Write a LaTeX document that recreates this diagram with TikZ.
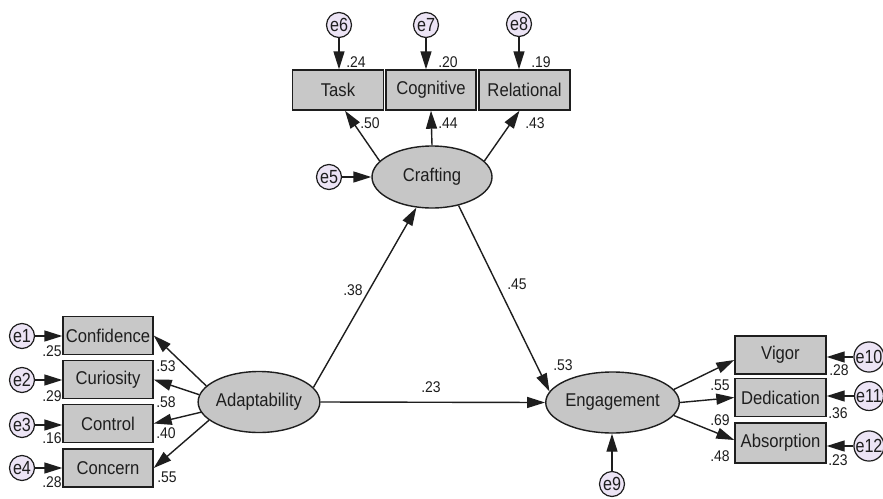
\documentclass[tikz,border=0pt]{standalone}
\usepackage{fontspec}
\setmainfont{Liberation Sans}[FakeStretch=0.9]
\usetikzlibrary{arrows.meta,shapes.geometric}
\definecolor{boxgray}{RGB}{200,200,200}
\definecolor{ellgray}{RGB}{198,198,198}
\definecolor{errfill}{RGB}{236,228,245}
\definecolor{ink}{RGB}{30,30,30}
\begin{document}
\begin{tikzpicture}[x=1pt,y=-1pt,
 obs/.style={draw=ink, line width=1.4pt, fill=boxgray, minimum width=90pt, minimum height=38pt, inner sep=0pt, font=\fontsize{18.5}{20}\selectfont, text=ink},
 lat/.style={ellipse, draw=ink, line width=1.4pt, fill=ellgray, minimum width=119pt, minimum height=61pt, inner sep=0pt, font=\fontsize{18.5}{20}\selectfont, text=ink},
 err/.style={circle, draw=ink, line width=1.2pt, fill=errfill, minimum size=25pt, inner sep=0pt, font=\fontsize{19}{20}\selectfont\addfontfeature{FakeStretch=0.85}, text=ink},
 coef/.style={font=\fontsize{15.5}{17}\selectfont, text=ink, inner sep=0pt},
 arr/.style={draw=ink, line width=1.4pt, -{Triangle[length=18pt,width=11pt]}},
]
\useasboundingbox[fill=white] (0,0) rectangle (883,498);

% observed variables
\node[obs, minimum width=91pt, minimum height=40pt] (task) at (338,90) {Task};
\node[obs, minimum height=40pt] (cog) at (431,90) {Cognitive};
\node[obs, minimum width=91pt, minimum height=40pt] (rel) at (524.5,90) {Relational};

\node[obs] (conf) at (108,335.5) {Confidence};
\node[obs] (curi) at (108,379.5) {Curiosity};
\node[obs] (ctrl) at (108,423.5) {Control};
\node[obs] (conc) at (108,468) {Concern};

\node[obs, minimum width=91pt] (vig) at (780.5,355) {Vigor};
\node[obs, minimum width=91pt] (ded) at (780.5,397.5) {Dedication};
\node[obs, minimum width=91pt, minimum height=40pt] (abs) at (780.5,443) {Absorption};

% latent variables
\node[lat, minimum width=120pt, minimum height=62pt] (craft) at (432,177) {Crafting};
\node[lat] (adapt) at (259,402) {Adaptability};
\node[lat] (eng) at (612.5,402.5) {Engagement};

% errors
\node[err] (e1) at (22,336) {e1};
\node[err] (e2) at (22,380) {e2};
\node[err] (e3) at (22,425) {e3};
\node[err] (e4) at (22,468) {e4};
\node[err] (e5) at (329,177) {e5};
\node[err] (e6) at (339,25) {e6};
\node[err] (e7) at (426,25) {e7};
\node[err] (e8) at (519,24) {e8};
\node[err] (e9) at (612,484) {e9};
\node[err] (e10) at (869,357) {e10};
\node[err] (e11) at (869,396) {e11};
\node[err] (e12) at (869,446) {e12};

% error arrows
\draw[arr] (e1) -- (e1 -| conf.west);
\draw[arr] (e2) -- (e2 -| curi.west);
\draw[arr] (e3) -- (e3 -| ctrl.west);
\draw[arr] (e4) -- (e4 -| conc.west);
\draw[arr] (e5) -- (e5 -| craft.west);
\draw[arr] (e6) -- (e6 |- task.north);
\draw[arr] (e7) -- (e7 |- cog.north);
\draw[arr] (e8) -- (e8 |- rel.north);
\draw[arr] (e9) -- (e9 |- eng.south);
\draw[arr] (e10) -- (e10 -| vig.east);
\draw[arr] (e11) -- (e11 -| ded.east);
\draw[arr] (e12) -- (e12 -| abs.east);

% structural paths
\draw[arr] (craft.163) -- ([xshift=7pt]task.south);
\draw[arr] (craft.north) -- (cog.south);
\draw[arr] (craft.17) -- ([xshift=-5pt]rel.south);
\draw[arr] (adapt.15) -- (craft.243);
\draw[arr] (craft.313) -- (eng.170);
\draw[arr] (adapt.east) -- (eng.west);
\draw[arr] (adapt.163) -- (conf.east);
\draw[arr] (adapt.173) -- (curi.east);
\draw[arr] (adapt.190) -- (ctrl.east);
\draw[arr] (adapt.200) -- (conc.east);
\draw[arr] (eng.12) -- ([yshift=-5pt]vig.west);
\draw[arr] (eng.east) -- (ded.west);
\draw[arr] (eng.348) -- ([yshift=3pt]abs.west);

% coefficients
\node[coef] (c24) at (356,62) {.24};
\node[coef] (c20) at (448,62) {.20};
\node[coef] (c19) at (541,62) {.19};
\node[coef] (c50) at (370,123) {.50};
\node[coef] (c44) at (448,123) {.44};
\node[coef] (c43) at (535,123) {.43};
\node[coef] (c38) at (353,290) {.38};
\node[coef] (c45) at (517,284) {.45};
\node[coef] (c23m) at (431,387) {.23};
\node[coef] (c53e) at (563,365) {.53};
\node[coef] (c25) at (52,351) {.25};
\node[coef] (c29) at (52,396) {.29};
\node[coef] (c16) at (52,438) {.16};
\node[coef] (c28l) at (52,482) {.28};
\node[coef] (c53) at (166,366) {.53};
\node[coef] (c58) at (166,402) {.58};
\node[coef] (c40) at (166,433) {.40};
\node[coef] (c55l) at (167,477) {.55};
\node[coef] (c55) at (720,385) {.55};
\node[coef] (c69) at (720,420) {.69};
\node[coef] (c48) at (720,456) {.48};
\node[coef] (c28r) at (839,370) {.28};
\node[coef] (c36) at (838,413) {.36};
\node[coef] (c23r) at (838,460) {.23};
\end{tikzpicture}
\end{document}
